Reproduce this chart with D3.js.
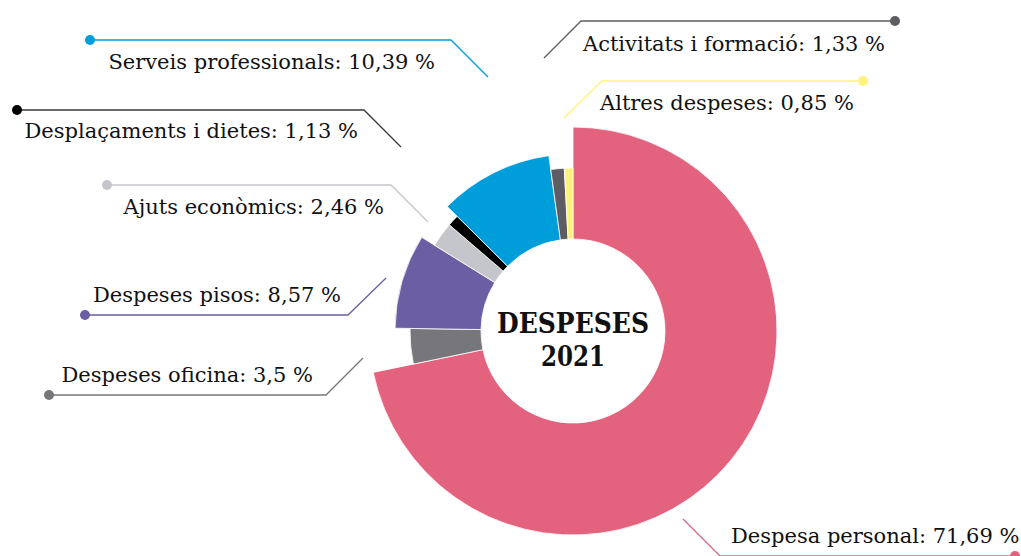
<!DOCTYPE html>
<html>
<head>
<meta charset="utf-8">
<script src="https://cdn.jsdelivr.net/npm/d3@7"></script>
<style>
  body { margin: 0; background: #fff; }
  text { font-family: "Roboto Slab", "DejaVu Serif", serif; }
</style>
</head>
<body>
<script>
// Data
const categories = ["Despesa personal", "Despeses oficina", "Despeses pisos", "Ajuts econòmics",
  "Desplaçaments i dietes", "Serveis professionals", "Activitats i formació", "Altres despeses"];
const values = [71.69, 3.5, 8.57, 2.46, 1.13, 10.39, 1.33, 0.85];
const valueLabels = ["71,69", "3,5", "8,57", "2,46", "1,13", "10,39", "1,33", "0,85"];
const title = ["DESPESES", "2021"];

// Styles / layout
const colors = ["#e3627e", "#77767b", "#6c5ea2", "#c5c6cb", "#000000", "#009ddb", "#5e5d63", "#fff27c"];
const lineColors = ["#e3627e", "#77767b", "#6c5ea2", "#c5c6cb", "#3a3a3a", "#009ddb", "#5e5d63", "#fff27c"];
const outerR = [204, 163, 178, 163, 163, 177, 163, 163];
const innerR = 92;
const cx = 573, cy = 331;

// label leader lines: dot, elbow, end, text position, anchor
const labelLayout = [
  { dot: [1015, 556], elbow: [720, 556], end: [683, 519], tx: 731, ty: 543, anchor: "start" },
  { dot: [49, 395], elbow: [326, 395], end: [363, 358], tx: 313, ty: 382, anchor: "end" },
  { dot: [85, 315], elbow: [348, 315], end: [386, 278], tx: 341, ty: 302, anchor: "end" },
  { dot: [107, 185], elbow: [391, 185], end: [428, 222], tx: 384, ty: 214, anchor: "end" },
  { dot: [17, 110], elbow: [364, 110], end: [401, 147], tx: 358, ty: 138, anchor: "end" },
  { dot: [90, 40], elbow: [451, 40], end: [488, 77], tx: 435, ty: 69, anchor: "end" },
  { dot: [895, 21], elbow: [581, 21], end: [544, 58], tx: 583, ty: 51, anchor: "start" },
  { dot: [863, 81], elbow: [602, 81], end: [564, 118], tx: 600, ty: 110, anchor: "start" }
];

const width = 1021, height = 556;

const svg = d3.select("body").append("svg")
  .attr("width", width)
  .attr("height", height);

const pie = d3.pie().sort(null).value(d => d);
const arcs = pie(values);

const g = svg.append("g").attr("transform", `translate(${cx},${cy})`);

g.selectAll("path.slice")
  .data(arcs)
  .enter()
  .append("path")
  .attr("class", "slice")
  .attr("d", (d, i) => d3.arc().innerRadius(innerR).outerRadius(outerR[i])(d))
  .attr("fill", (d, i) => colors[i])
  .attr("stroke", "#fff")
  .attr("stroke-width", 0.8);

// Center title
const titleLen = [152, 64];
g.selectAll("text.title")
  .data(title)
  .enter()
  .append("text")
  .attr("class", "title")
  .attr("text-anchor", "middle")
  .attr("y", (d, i) => 2 + i * 33)
  .attr("textLength", (d, i) => titleLen[i])
  .attr("lengthAdjust", "spacingAndGlyphs")
  .style("font-weight", "bold")
  .style("font-size", "28px")
  .attr("fill", "#111")
  .text(d => d);

// Leader lines
const labels = svg.append("g");

labels.selectAll("polyline")
  .data(labelLayout)
  .enter()
  .append("polyline")
  .attr("points", d => [d.dot, d.elbow, d.end].map(p => p.join(",")).join(" "))
  .attr("fill", "none")
  .attr("stroke", (d, i) => lineColors[i])
  .attr("stroke-width", 1.3);

labels.selectAll("circle")
  .data(labelLayout)
  .enter()
  .append("circle")
  .attr("cx", d => d.dot[0])
  .attr("cy", d => d.dot[1])
  .attr("r", 5)
  .attr("fill", (d, i) => colors[i]);

labels.selectAll("text")
  .data(labelLayout)
  .enter()
  .append("text")
  .attr("x", d => d.tx)
  .attr("y", d => d.ty)
  .attr("text-anchor", d => d.anchor)
  .style("font-size", "21px")
  .attr("fill", "#111")
  .text((d, i) => `${categories[i]}: ${valueLabels[i]} %`);
</script>
</body>
</html>
